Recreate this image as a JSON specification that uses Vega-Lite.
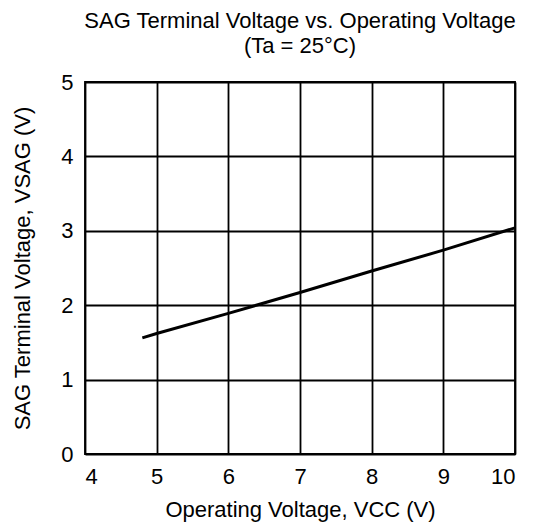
{
  "$schema": "https://vega.github.io/schema/vega-lite/v6.json",
  "autosize": {"type": "none"},
  "padding": {"left": 85, "top": 82, "right": 35, "bottom": 76},
  "width": 430,
  "height": 372,
  "background": "white",
  "title": {
    "text": ["SAG Terminal Voltage vs. Operating Voltage", "(Ta = 25°C)"],
    "anchor": "middle",
    "frame": "group",
    "font": "Liberation Sans",
    "fontSize": 22,
    "fontWeight": "normal",
    "lineHeight": 25,
    "color": "black",
    "offset": 13
  },
  "config": {
    "view": {"stroke": "black", "strokeWidth": 1.8},
    "axis": {
      "labelFont": "Liberation Sans",
      "titleFont": "Liberation Sans",
      "labelFontSize": 22,
      "titleFontSize": 22,
      "titleFontWeight": "normal",
      "labelColor": "black",
      "titleColor": "black",
      "grid": true,
      "gridColor": "black",
      "gridWidth": 1.8,
      "gridOpacity": 1,
      "domain": false,
      "ticks": false
    }
  },
  "data": {
    "values": [
      {"vcc": 4.8, "vsag": 1.56},
      {"vcc": 5, "vsag": 1.62},
      {"vcc": 6, "vsag": 1.89},
      {"vcc": 7, "vsag": 2.17},
      {"vcc": 8, "vsag": 2.46},
      {"vcc": 9, "vsag": 2.74},
      {"vcc": 10, "vsag": 3.04}
    ]
  },
  "mark": {"type": "line", "color": "black", "strokeWidth": 3},
  "encoding": {
    "x": {
      "field": "vcc",
      "type": "quantitative",
      "scale": {"domain": [4, 10], "nice": false, "zero": false},
      "axis": {"values": [4, 5, 6, 7, 8, 9, 10], "title": "Operating Voltage, VCC (V)", "labelPadding": 12, "titlePadding": 12}
    },
    "y": {
      "field": "vsag",
      "type": "quantitative",
      "scale": {"domain": [0, 5], "nice": false},
      "axis": {"values": [0, 1, 2, 3, 4, 5], "title": "SAG Terminal Voltage, VSAG (V)", "labelPadding": 12, "titlePadding": 26}
    }
  }
}
